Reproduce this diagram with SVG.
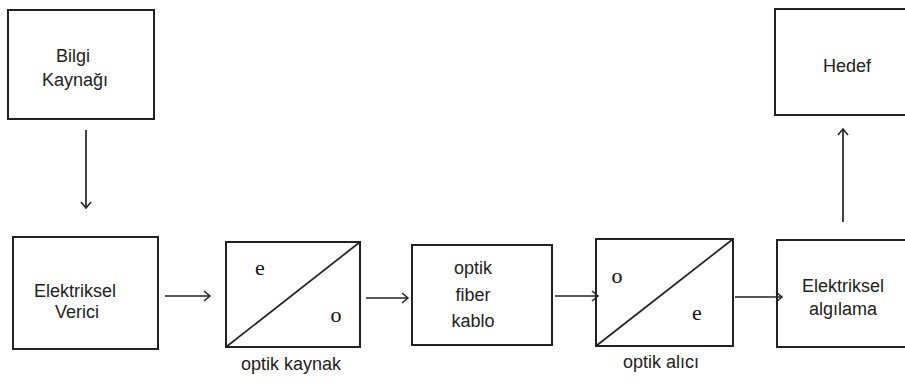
<svg xmlns="http://www.w3.org/2000/svg" width="905" height="383" viewBox="0 0 905 383">
<style>
.box{fill:#fff;stroke:#222;stroke-width:2}
.diag{stroke:#222;stroke-width:1.7;fill:none}
.lbl{font-family:"Liberation Sans",Arial,sans-serif;font-size:18px;fill:#222;text-anchor:middle}
.eo{font-family:"Liberation Serif","Times New Roman",serif;font-size:22px;fill:#111;text-anchor:middle}
.conn{stroke:#222;stroke-width:1.7;fill:none;marker-end:url(#arr)}
</style>
<defs>
<marker id="arr" markerWidth="10" markerHeight="12" refX="8" refY="6" orient="auto" markerUnits="userSpaceOnUse">
<path d="M2,1 L8,6 L2,11" fill="none" stroke="#222" stroke-width="1.5"/>
</marker>
</defs>
<rect width="905" height="383" fill="#fff"/>
<g id="bilgi-kaynagi">
<rect class="box" x="8" y="10" width="146" height="109"/>
<text class="lbl" x="73" y="62">Bilgi</text>
<text class="lbl" x="75" y="86">Kaynağı</text>
</g>
<g id="elektriksel-verici">
<rect class="box" x="13" y="237" width="145" height="112"/>
<text class="lbl" x="75" y="297">Elektriksel</text>
<text class="lbl" x="77" y="318">Verici</text>
</g>
<g id="optik-kaynak">
<rect class="box" x="226" y="242" width="134" height="105"/>
<line class="diag" x1="226" y1="347" x2="360" y2="242"/>
<text class="eo" x="260" y="275">e</text>
<text class="eo" x="336" y="322">o</text>
<text class="lbl" x="291" y="370">optik kaynak</text>
</g>
<g id="optik-fiber-kablo">
<rect class="box" x="412" y="245" width="140" height="100"/>
<text class="lbl" x="473" y="274">optik</text>
<text class="lbl" x="473" y="301">fiber</text>
<text class="lbl" x="473" y="327">kablo</text>
</g>
<g id="optik-alici">
<rect class="box" x="596" y="239" width="137" height="107"/>
<line class="diag" x1="596" y1="346" x2="733" y2="239"/>
<text class="eo" x="617" y="283">o</text>
<text class="eo" x="697" y="320">e</text>
<text class="lbl" x="661" y="368">optik alıcı</text>
</g>
<g id="elektriksel-algilama">
<rect class="box" x="777" y="240" width="140" height="107"/>
<text class="lbl" x="843" y="292">Elektriksel</text>
<text class="lbl" x="843" y="315">algılama</text>
</g>
<g id="hedef">
<rect class="box" x="775" y="9" width="140" height="106"/>
<text class="lbl" x="847" y="72">Hedef</text>
</g>
<g id="connectors">
<line class="conn" x1="86" y1="130" x2="86" y2="208"/>
<line class="conn" x1="165" y1="296" x2="210" y2="296"/>
<line class="conn" x1="366" y1="298" x2="408" y2="298"/>
<line class="conn" x1="555" y1="296" x2="598" y2="296"/>
<line class="conn" x1="735" y1="297" x2="782" y2="297"/>
<line class="conn" x1="843" y1="222" x2="843" y2="129"/>
</g>
</svg>
